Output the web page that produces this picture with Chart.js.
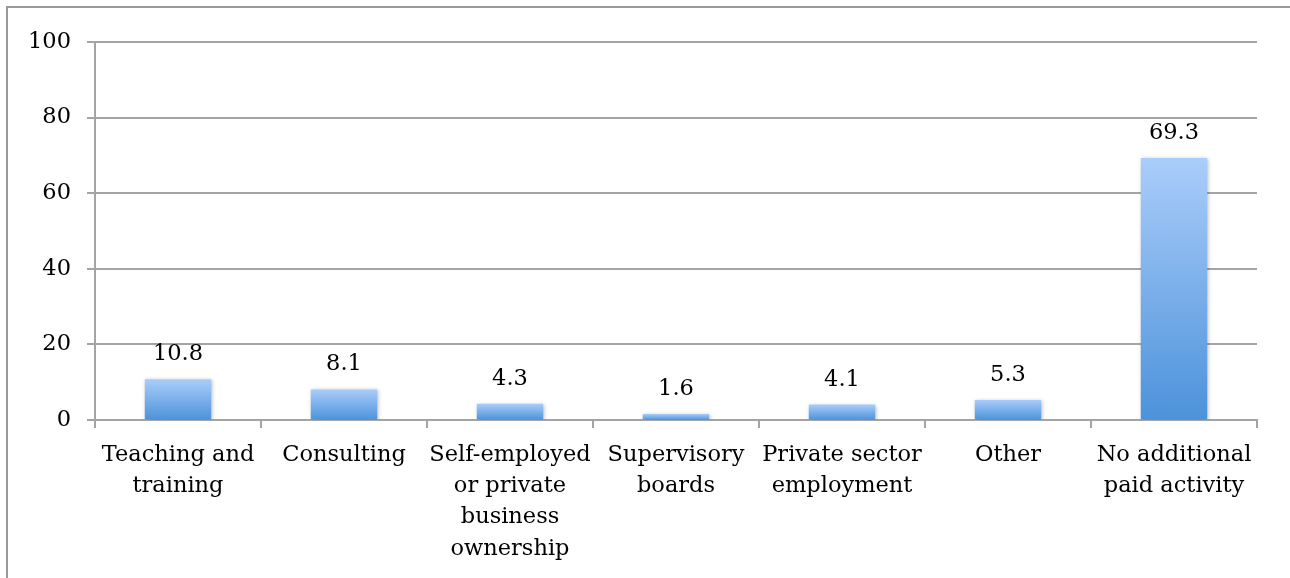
<!DOCTYPE html>
<html>
<head>
<meta charset="utf-8">
<script src="https://cdn.jsdelivr.net/npm/chart.js@4"></script>
<style>
  html, body { margin: 0; padding: 0; background: #fff; overflow: hidden; }
  canvas { display: block; }
</style>
</head>
<body>
<canvas id="c" width="1290" height="578"></canvas>
<script>
// ---- data ----
const categories = [
  ["Teaching and", "training"],
  ["Consulting"],
  ["Self-employed", "or private", "business", "ownership"],
  ["Supervisory", "boards"],
  ["Private sector", "employment"],
  ["Other"],
  ["No additional", "paid activity"]
];
const values = [10.8, 8.1, 4.3, 1.6, 4.1, 5.3, 69.3];
const yMin = 0;
const yMax = 100;
const yStep = 20;

// ---- styling ----
const FONT = { family: "'DejaVu Serif', serif", size: 22.5 };
const GRID = '#a4a4a4';
const FRAME = '#9a9a9a';
const TOP_COLOR = '#aacdfa';
const BOTTOM_COLOR = '#4c92da';

function barGradient(ctx) {
  const chart = ctx.chart;
  if (!chart.chartArea || !ctx.parsed) return BOTTOM_COLOR;
  const ys = chart.scales.y;
  const top = ys.getPixelForValue(ctx.parsed.y);
  const bottom = ys.getPixelForValue(0);
  const g = chart.ctx.createLinearGradient(0, top, 0, bottom);
  g.addColorStop(0, TOP_COLOR);
  g.addColorStop(1, BOTTOM_COLOR);
  return g;
}

// chart-frame (outer border: left and top edges only, the rest is cropped)
const framePlugin = {
  id: 'frame',
  beforeDraw(chart) {
    const c = chart.ctx;
    c.save();
    c.strokeStyle = FRAME;
    c.lineWidth = 2;
    c.beginPath();
    c.moveTo(7, chart.height + 5);
    c.lineTo(7, 7);
    c.lineTo(chart.width + 5, 7);
    c.stroke();
    c.restore();
  }
};

const shadowPlugin = {
  id: 'barShadow',
  beforeDatasetDraw(chart) {
    const c = chart.ctx;
    c.save();
    c.shadowColor = 'rgba(0,0,0,0.28)';
    c.shadowBlur = 4;
    c.shadowOffsetX = 1;
    c.shadowOffsetY = 1;
  },
  afterDatasetDraw(chart) {
    chart.ctx.restore();
  }
};

const valueLabels = {
  id: 'valueLabels',
  afterDatasetsDraw(chart) {
    const c = chart.ctx;
    const meta = chart.getDatasetMeta(0);
    c.save();
    c.font = `${FONT.size}px ${FONT.family}`;
    c.fillStyle = '#000';
    c.textAlign = 'center';
    c.textBaseline = 'alphabetic';
    meta.data.forEach((bar, i) => {
      c.fillText(values[i].toFixed(1), bar.x, bar.y - 19);
    });
    c.restore();
  }
};

new Chart(document.getElementById('c'), {
  type: 'bar',
  data: {
    labels: categories,
    datasets: [{
      data: values,
      backgroundColor: barGradient,
      borderWidth: 0,
      barPercentage: 0.4,
      categoryPercentage: 1.0
    }]
  },
  options: {
    responsive: false,
    animation: false,
    devicePixelRatio: 1,
    layout: { padding: { left: 0, right: 33, top: 42, bottom: 0 } },
    plugins: { legend: { display: false }, tooltip: { enabled: false } },
    scales: {
      x: {
        offset: true,
        grid: { display: true, drawOnChartArea: false, drawTicks: true, tickLength: 8, offset: true, color: GRID, lineWidth: 2 },
        border: { display: true, color: GRID, width: 2 },
        ticks: { color: '#000', font: { ...FONT, lineHeight: 1.38 }, padding: 12, maxRotation: 0, minRotation: 0, autoSkip: false },
        afterFit(s) { s.height = 158; }
      },
      y: {
        min: yMin,
        max: yMax,
        grid: { color: GRID, lineWidth: 2, tickLength: 8 },
        border: { display: true, color: GRID, width: 2 },
        ticks: { stepSize: yStep, color: '#000', font: FONT, padding: 16 },
        afterFit(s) { s.width = 95; }
      }
    }
  },
  plugins: [framePlugin, shadowPlugin, valueLabels]
});
</script>
</body>
</html>
